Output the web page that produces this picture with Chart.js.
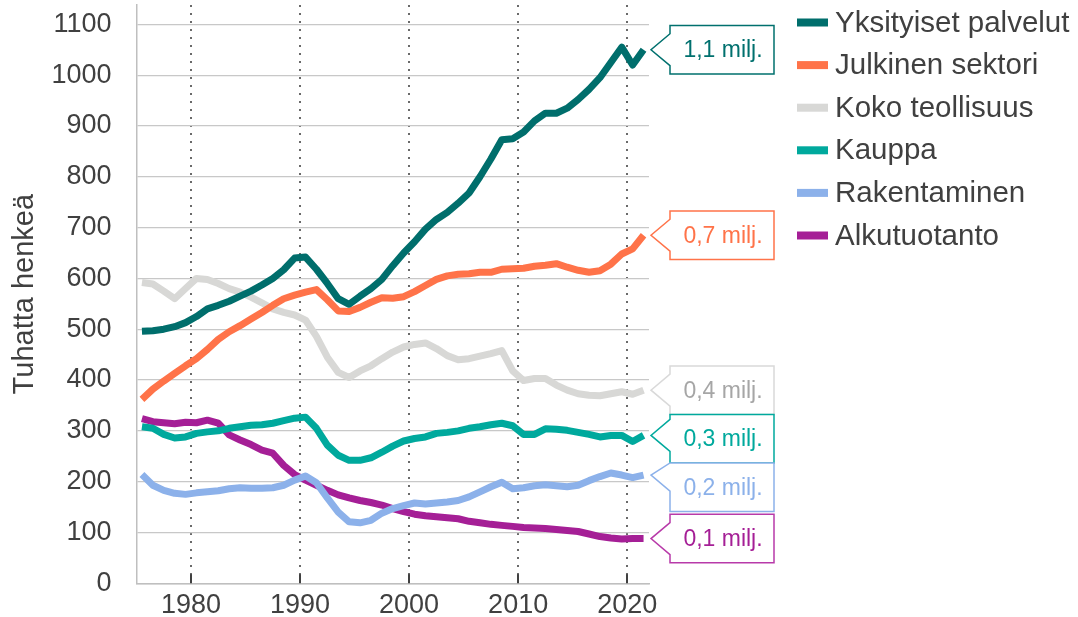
<!DOCTYPE html>
<html>
<head>
<meta charset="utf-8">
<script src="https://cdn.jsdelivr.net/npm/chart.js@4.4.0/dist/chart.umd.min.js"></script>
<style>
html,body{margin:0;padding:0;background:#fff;}
#wrap{width:1078px;height:617px;}
</style>
</head>
<body>
<div id="wrap"><canvas id="employmentChart" width="1078" height="617"></canvas></div>
<script>
// years of the series
const years = [1975,1976,1977,1978,1979,1980,1981,1982,1983,1984,1985,1986,1987,1988,1989,1990,1991,1992,1993,1994,1995,1996,1997,1998,1999,2000,2001,2002,2003,2004,2005,2006,2007,2008,2009,2010,2011,2012,2013,2014,2015,2016,2017,2018,2019,2020,2021];

// thousands of persons
const yksityisetPalvelut = [496,497,500,505,513,525,540,547,555,565,575,587,600,617,640,642,618,590,560,549,565,580,598,625,650,672,697,716,730,748,768,800,835,873,875,888,910,925,925,935,952,972,995,1025,1055,1020,1050];
const julkinenSektori = [362,382,398,413,428,442,460,480,495,507,520,533,547,560,567,573,578,558,536,535,543,553,562,561,564,574,586,598,605,608,609,612,612,618,619,620,624,626,629,622,616,612,615,628,648,658,685];
const kokoTeollisuus = [592,589,575,560,580,600,598,590,580,573,563,552,540,533,528,518,486,445,415,405,418,428,442,455,465,470,473,462,448,440,442,447,452,458,418,399,403,403,390,380,373,370,369,373,377,372,380];
const kauppa = [308,305,293,286,288,295,298,300,305,308,311,312,315,320,325,327,305,272,252,242,242,247,258,270,280,285,288,295,297,300,305,308,312,315,310,293,293,304,303,301,297,293,288,291,291,279,291];
const rakentaminen = [214,193,183,177,175,178,180,182,186,188,187,187,188,193,203,211,198,168,140,121,119,124,138,147,153,158,156,158,160,163,170,180,190,199,186,188,192,194,192,190,193,202,210,217,213,208,213];
const alkutuotanto = [324,318,316,314,317,316,321,315,292,282,273,262,256,232,214,203,193,183,174,168,163,159,154,147,141,136,133,131,129,127,122,119,116,114,112,110,109,108,106,104,102,97,92,89,87,88,88];

const seriesNames = ["Yksityiset palvelut","Julkinen sektori","Koko teollisuus","Kauppa","Rakentaminen","Alkutuotanto"];
const seriesData = [yksityisetPalvelut,julkinenSektori,kokoTeollisuus,kauppa,rakentaminen,alkutuotanto];
const seriesColors = ["#006e6c","#ff7349","#d8d8d6","#00a99d","#8cb1ea","#a51f96"];
const endLabels = ["1,1 milj.","0,7 milj.","0,4 milj.","0,3 milj.","0,2 milj.","0,1 milj."];
const endBorderColors = ["#00706e","#ff7349","#d9d9d9","#00a99d","#8cb1ea","#b83aa9"];
const endTextColors = ["#00706e","#ff7349","#a6a6a6","#00a99d","#8cb1ea","#a51f96"];

const yTicks = [0,100,200,300,400,500,600,700,800,900,1000,1100];
const xTicks = [1980,1990,2000,2010,2020];
const yTitle = "Tuhatta henkeä";

const FONT = "'Liberation Sans', Arial, sans-serif";
const TEXT = "#404040";

const extras = {
  id: "extras",
  beforeDatasetsDraw(chart){
    const {ctx, chartArea:a, scales:{x}} = chart;
    ctx.save();
    ctx.strokeStyle = "#404040";
    ctx.lineWidth = 2;
    xTicks.forEach(v => {
      const px = Math.round(x.getPixelForValue(v));
      ctx.beginPath();
      ctx.moveTo(px, a.bottom);
      ctx.lineTo(px, a.bottom - 9);
      ctx.stroke();
    });
    ctx.restore();
  },
  afterDraw(chart){
    const {ctx, chartArea:a, scales:{y}} = chart;
    ctx.save();

    // legend
    ctx.font = "29.5px " + FONT;
    ctx.textBaseline = "middle";
    ctx.textAlign = "left";
    seriesNames.forEach((name, i) => {
      const cy = 22.5 + i*42.6;
      ctx.fillStyle = seriesColors[i];
      ctx.fillRect(797, cy - 4, 31, 8);
      ctx.fillStyle = TEXT;
      ctx.fillText(name, 835, cy + 1);
    });

    // end labels
    const boxH = 48.5, left = a.right + 21, right = left + 104, tipX = a.right + 2;
    const items = seriesData.map((d, i) => ({i, tipY: y.getPixelForValue(d[d.length-1])}))
      .sort((p, q) => p.tipY - q.tipY);
    let prevBottom = -Infinity;
    items.forEach(it => {
      let top = it.tipY - boxH/2;
      if (top < prevBottom) top = prevBottom;
      const bottom = top + boxH;
      prevBottom = bottom;
      ctx.beginPath();
      ctx.moveTo(left, top);
      ctx.lineTo(right, top);
      ctx.lineTo(right, bottom);
      ctx.lineTo(left, bottom);
      ctx.lineTo(left, Math.min(bottom, it.tipY + 16));
      ctx.lineTo(tipX, it.tipY);
      ctx.lineTo(left, Math.max(top, it.tipY - 16));
      ctx.closePath();
      ctx.fillStyle = "#fff";
      ctx.fill();
      ctx.lineWidth = 1.5;
      ctx.strokeStyle = endBorderColors[it.i];
      ctx.stroke();
      ctx.font = "23px " + FONT;
      ctx.textAlign = "center";
      ctx.fillStyle = endTextColors[it.i];
      ctx.fillText(endLabels[it.i], (left + right)/2 + 1, (top + bottom)/2 + 1);
    });
    ctx.restore();
  }
};

new Chart("employmentChart", {
  type: "line",
  data: {
    datasets: seriesNames.map((name, i) => ({
      label: name,
      data: years.map((yr, k) => ({x: yr + 0.5, y: seriesData[i][k]})),
      borderColor: seriesColors[i],
      backgroundColor: seriesColors[i],
      borderWidth: 7,
      borderJoinStyle: "round",
      pointRadius: 0,
      tension: 0,
      fill: false
    }))
  },
  options: {
    responsive: false,
    animation: false,
    layout: {padding: {left: 0, top: 5, right: 429, bottom: 0}},
    plugins: {legend: {display: false}, tooltip: {enabled: false}},
    scales: {
      x: {
        type: "linear",
        min: 1975,
        max: 2022,
        afterBuildTicks: s => { s.ticks = xTicks.map(v => ({value: v})); },
        afterFit: s => { s.height = 33.7; s.paddingLeft = 0; s.paddingRight = 0; },
        grid: {color: "#6a6a6a", lineWidth: 2, drawTicks: false},
        border: {display: true, color: "#bfbfbf", width: 1.5, dash: [2, 6]},
        ticks: {padding: 6, color: TEXT, font: {family: FONT, size: 27}, maxRotation: 0, callback: v => String(v)}
      },
      y: {
        min: 0,
        max: 1138,
        afterBuildTicks: s => { s.ticks = yTicks.map(v => ({value: v})); },
        afterFit: s => { s.width = 136.5; s.paddingTop = 0; s.paddingBottom = 0; },
        grid: {color: "#c8c8c8", lineWidth: 1.2, drawTicks: false},
        border: {display: true, color: "#bfbfbf", width: 1.5},
        ticks: {padding: 25, color: TEXT, font: {family: FONT, size: 27}, callback: v => String(v)},
        title: {display: true, text: yTitle, color: TEXT, font: {family: FONT, size: 29}, padding: {top: 8, bottom: 0}}
      }
    }
  },
  plugins: [extras]
});
</script>
</body>
</html>
